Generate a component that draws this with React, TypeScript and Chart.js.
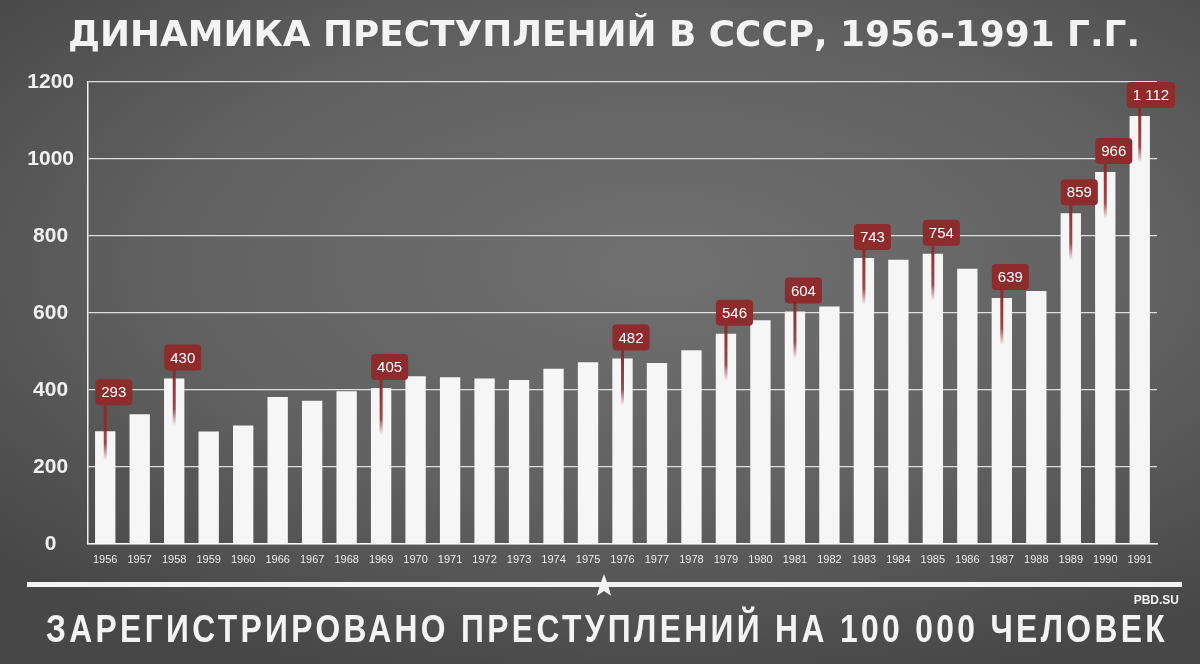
import { useEffect, useRef } from 'react';
import { Chart, registerables } from 'chart.js';

Chart.register(...registerables);

const years = ['1956', '1957', '1958', '1959', '1960', '1966', '1967', '1968', '1969', '1970', '1971', '1972', '1973', '1974', '1975', '1976', '1977', '1978', '1979', '1980', '1981', '1982', '1983', '1984', '1985', '1986', '1987', '1988', '1989', '1990', '1991'];
const crimeRate = [293, 337, 430, 292, 308, 382, 372, 397, 405, 436, 433, 430, 426, 455, 472, 482, 470, 503, 546, 581, 604, 617, 743, 738, 754, 715, 639, 657, 859, 966, 1112];
const labeledYears = ['1956', '1958', '1969', '1976', '1979', '1981', '1983', '1985', '1987', '1989', '1990', '1991'];
const labelTexts = ['293', '430', '405', '482', '546', '604', '743', '754', '639', '859', '966', '1 112'];
const yTickValues = [0, 200, 400, 600, 800, 1000, 1200];
const titleText = 'ДИНАМИКА ПРЕСТУПЛЕНИЙ В СССР, 1956-1991 Г.Г.';
const subtitleText = 'ЗАРЕГИСТРИРОВАНО ПРЕСТУПЛЕНИЙ НА 100 000 ЧЕЛОВЕК';
const sourceText = 'PBD.SU';

const RED = '#8e2b2c';

function fitText(ctx: CanvasRenderingContext2D, text: string, cx: number, baseY: number, targetW: number, font: string, spacing = '0px') {
  ctx.save();
  ctx.font = font;
  (ctx as any).letterSpacing = spacing;
  const w = ctx.measureText(text).width;
  const s = targetW / w;
  ctx.translate(cx, baseY);
  ctx.scale(s, 1);
  ctx.textAlign = 'center';
  ctx.textBaseline = 'alphabetic';
  ctx.fillStyle = '#f3f3f3';
  ctx.fillText(text, 0, 0);
  ctx.restore();
}

const decorPlugin = {
  id: 'decor',
  afterDraw(chart: any) {
    const ctx: CanvasRenderingContext2D = chart.ctx;
    // title
    fitText(ctx, titleText, 604, 46, 1072, 'bold 36px "DejaVu Sans", sans-serif');
    // bottom rule
    ctx.save();
    ctx.fillStyle = '#f3f3f3';
    ctx.fillRect(27, 582, 1155, 5);
    // star
    const cx = 604, cy = 586, R = 12, r = 5;
    ctx.beginPath();
    for (let i = 0; i < 10; i++) {
      const ang = -Math.PI / 2 + (i * Math.PI) / 5;
      const rad = i % 2 === 0 ? R : r;
      const px = cx + rad * Math.cos(ang);
      const py = cy + rad * Math.sin(ang);
      if (i === 0) ctx.moveTo(px, py); else ctx.lineTo(px, py);
    }
    ctx.closePath();
    ctx.fill();
    // source
    ctx.font = 'bold 12px "Liberation Sans", Arial, sans-serif';
    ctx.textAlign = 'right';
    ctx.textBaseline = 'alphabetic';
    ctx.fillText(sourceText, 1179, 604);
    ctx.restore();
    // subtitle
    fitText(ctx, subtitleText, 607, 642, 1122, 'bold 38px "Liberation Sans", Arial, sans-serif', '4px');
  },
};

const bubblePlugin = {
  id: 'bubbles',
  afterDatasetsDraw(chart: any) {
    const ctx: CanvasRenderingContext2D = chart.ctx;
    const meta = chart.getDatasetMeta(0);
    ctx.save();
    ctx.font = '15px "Liberation Sans", Arial, sans-serif';
    labeledYears.forEach((yr, k) => {
      const idx = years.indexOf(yr);
      const bar = meta.data[idx];
      if (!bar) return;
      const text = labelTexts[k];
      const tw = ctx.measureText(text).width;
      const w = tw + 12;
      const h = 26;
      const lift = idx === 0 ? 26 : 8;
      const bottom = bar.y - lift;
      const top = bottom - h;
      const left = bar.x - 0.27 * w;
      // stem
      const stemEnd = bottom + 55;
      const g = ctx.createLinearGradient(0, bottom, 0, stemEnd);
      g.addColorStop(0, RED);
      g.addColorStop(0.7, 'rgba(142,43,44,0.85)');
      g.addColorStop(1, 'rgba(142,43,44,0)');
      ctx.fillStyle = g;
      ctx.fillRect(bar.x - 1.5, bottom - 2, 3, stemEnd - bottom + 2);
      // box
      ctx.fillStyle = RED;
      ctx.beginPath();
      (ctx as any).roundRect(left, top, w, h, 4);
      ctx.fill();
      ctx.fillStyle = '#ffffff';
      ctx.textAlign = 'center';
      ctx.textBaseline = 'middle';
      ctx.fillText(text, left + w / 2, top + h / 2 + 1);
    });
    ctx.restore();
  },
};

export default function App() {
  const ref = useRef<HTMLCanvasElement | null>(null);

  useEffect(() => {
    if (!ref.current) return;
    const chart = new Chart(ref.current, {
      type: 'bar',
      data: {
        labels: years,
        datasets: [
          {
            data: crimeRate,
            backgroundColor: '#f6f6f6',
            borderWidth: 0,
            barPercentage: 0.59,
            categoryPercentage: 1,
          },
        ],
      },
      options: {
        responsive: false,
        animation: false,
        layout: { padding: { left: 0, top: 82, right: 43, bottom: 0 } },
        plugins: {
          legend: { display: false },
          title: { display: false },
          tooltip: { enabled: false },
        },
        scales: {
          x: {
            grid: { display: false, drawTicks: false },
            border: { display: true, color: 'rgba(255,255,255,0.9)', width: 1.5 },
            ticks: {
              color: '#ececec',
              font: { family: '"Liberation Sans", Arial, sans-serif', size: 11 },
              padding: 9,
              maxRotation: 0,
              autoSkip: false,
            },
            afterFit: (s: any) => {
              s.height = 120;
            },
          },
          y: {
            min: 0,
            max: 1200,
            afterBuildTicks: (s: any) => {
              s.ticks = yTickValues.map((v) => ({ value: v }));
            },
            grid: { color: 'rgba(255,255,255,0.8)', lineWidth: 1.3, drawTicks: false },
            border: { display: true, color: 'rgba(255,255,255,0.9)', width: 1.5 },
            ticks: {
              color: '#f0f0f0',
              font: { family: '"Liberation Sans", Arial, sans-serif', size: 21, weight: 'bold' },
              crossAlign: 'center',
              padding: 14,
              callback: (v: any) => String(v),
            },
            afterFit: (s: any) => {
              s.width = 88;
            },
          },
        },
      },
      plugins: [bubblePlugin, decorPlugin],
    } as any);
    return () => chart.destroy();
  }, []);

  return (
    <div
      style={{
        position: 'fixed',
        left: 0,
        top: 0,
        width: 1200,
        height: 664,
        background:
          'radial-gradient(ellipse 75% 65% at 55% 40%, #707070 0%, #616161 55%, #474747 100%)',
      }}
    >
      <canvas ref={ref} width={1200} height={664} style={{ display: 'block' }} />
    </div>
  );
}
